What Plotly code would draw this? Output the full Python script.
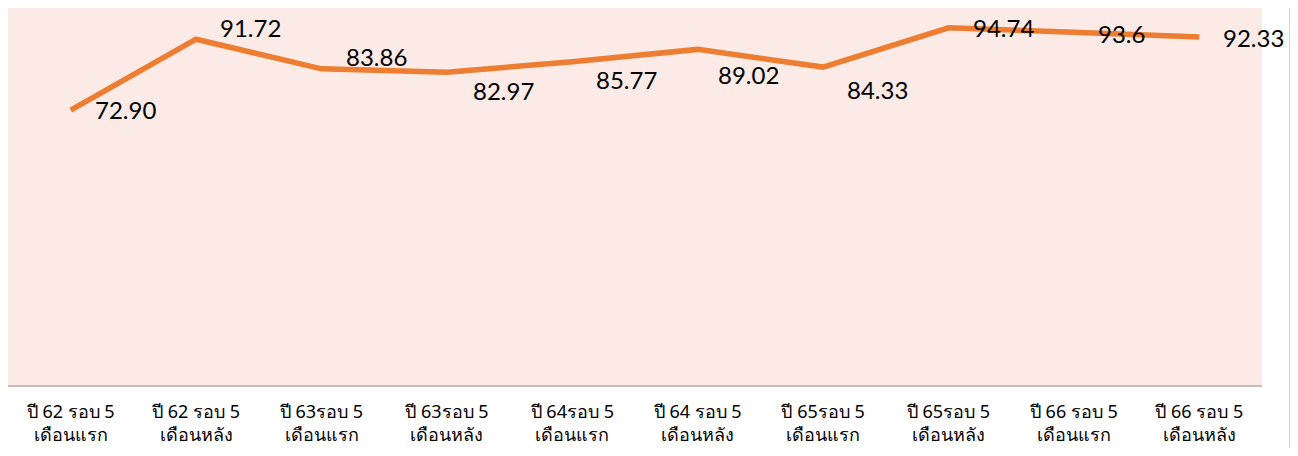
import plotly.graph_objects as go

categories = [
    "ปี 62 รอบ 5<br>เดือนแรก",
    "ปี 62 รอบ 5<br>เดือนหลัง",
    "ปี 63รอบ 5<br>เดือนแรก",
    "ปี 63รอบ 5<br>เดือนหลัง",
    "ปี 64รอบ 5<br>เดือนแรก",
    "ปี 64 รอบ 5<br>เดือนหลัง",
    "ปี 65รอบ 5<br>เดือนแรก",
    "ปี 65รอบ 5<br>เดือนหลัง",
    "ปี 66 รอบ 5<br>เดือนแรก",
    "ปี 66 รอบ 5<br>เดือนหลัง",
]
values = [72.90, 91.72, 83.86, 82.97, 85.77, 89.02, 84.33, 94.74, 93.6, 92.33]
value_labels = ["72.90", "91.72", "83.86", "82.97", "85.77", "89.02", "84.33", "94.74", "93.6", "92.33"]
label_xshift = [22, 22, 22, 24, 22, 18, 22, 22, 22, 22]
label_yshift = [1, 12, 12, -18, -18, -25, -22, 0, -1, -1]

fig = go.Figure()
fig.add_trace(go.Scatter(
    x=categories, y=values, mode="lines",
    line=dict(color="#ED7D31", width=5.5),
    hoverinfo="skip", showlegend=False,
))

for c, v, t, dx, dy in zip(categories, values, value_labels, label_xshift, label_yshift):
    fig.add_annotation(
        x=c, y=v, text=t, showarrow=False,
        xanchor="left", yanchor="middle",
        xshift=dx, yshift=dy,
        font=dict(family="Lato, 'Open Sans', sans-serif", size=24, color="#000000"),
    )

# chart border line on the right
fig.add_shape(type="line", xref="paper", yref="paper",
              x0=1.023, x1=1.023, y0=-0.17, y1=1.02,
              line=dict(color="#9E9E9E", width=2.5))

fig.update_layout(
    width=1290, height=440,
    margin=dict(l=0, r=36, t=0, b=63),
    paper_bgcolor="#FFFFFF",
    plot_bgcolor="#FBEAE6",
    xaxis=dict(
        showgrid=False, zeroline=False,
        showline=True, linecolor="#BFBFBF", linewidth=2,
        ticks="", ticklabelstandoff=9,
        tickfont=dict(family="Tahoma, 'Noto Sans', sans-serif", size=18, color="#000000"),
        range=[-0.5, 9.5],
    ),
    yaxis=dict(
        range=[0, 100], showgrid=False, zeroline=False,
        showticklabels=False, showline=False,
    ),
)

fig.write_html("out.html")
